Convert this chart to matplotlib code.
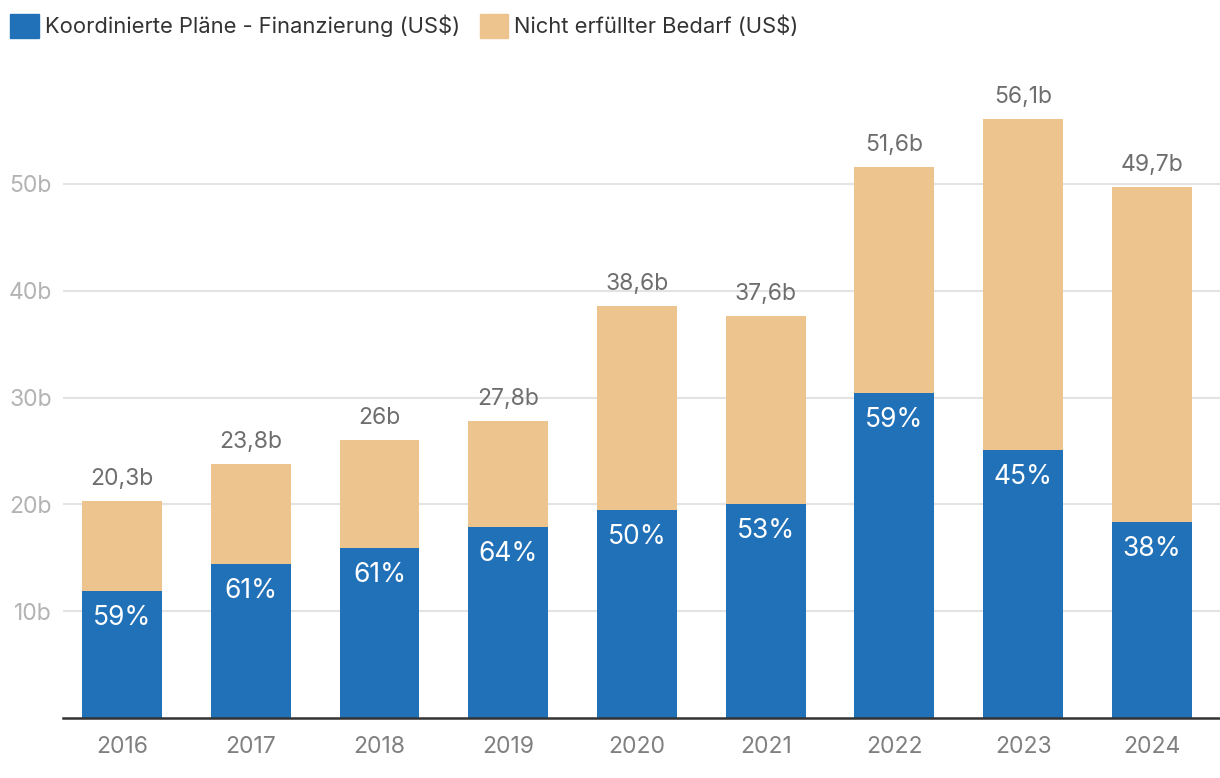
import matplotlib.pyplot as plt
from matplotlib.patches import Patch

years = ['2016', '2017', '2018', '2019', '2020', '2021', '2022', '2023', '2024']
funded = [11.9, 14.4, 15.9, 17.9, 19.5, 20.0, 30.4, 25.1, 18.35]
totals = [20.3, 23.8, 26.0, 27.8, 38.6, 37.6, 51.6, 56.1, 49.7]
total_labels = ['20,3b', '23,8b', '26b', '27,8b', '38,6b', '37,6b', '51,6b', '56,1b', '49,7b']
pct_labels = ['59%', '61%', '61%', '64%', '50%', '53%', '59%', '45%', '38%']

blue = '#2171b8'
sand = '#eec48e'

plt.rcParams['font.family'] = ['Inter', 'DejaVu Sans']

fig = plt.figure(figsize=(12.2, 7.78), dpi=100)
ax = fig.add_axes([63 / 1220, 60 / 778, 1157 / 1220, 641 / 778])

x = range(len(years))
unmet = [t - f for t, f in zip(totals, funded)]
ax.bar(x, funded, width=0.62, color=blue, zorder=2)
ax.bar(x, unmet, bottom=funded, width=0.62, color=sand, zorder=2)

for i in x:
    ax.annotate(total_labels[i], (i, totals[i]), xytext=(0, 8), textcoords='offset points',
                ha='center', va='bottom', fontsize=16.5, color='#6e6e6e')
    ax.annotate(pct_labels[i], (i, funded[i]), xytext=(0, -10), textcoords='offset points',
                ha='center', va='top', fontsize=19, color='white')

ax.set_xlim(-0.46, 8.53)
ax.set_ylim(0, 60)
ax.set_yticks([10, 20, 30, 40, 50])
ax.set_yticklabels(['10b', '20b', '30b', '40b', '50b'])
ax.set_xticks(list(x))
ax.set_xticklabels(years)
ax.grid(axis='y', color='#e3e3e3', linewidth=1.5, zorder=0)
ax.set_axisbelow(True)

for s in ['top', 'right', 'left']:
    ax.spines[s].set_visible(False)
ax.spines['bottom'].set_color('#333333')
ax.spines['bottom'].set_linewidth(1.8)
ax.tick_params(axis='y', length=0, pad=8, labelsize=16.5, labelcolor='#b3b3b3')
ax.tick_params(axis='x', length=0, pad=13, labelsize=16.5, labelcolor='#808080')

handles = [Patch(color=blue, label='Koordinierte Pläne - Finanzierung (US$)'),
           Patch(color=sand, label='Nicht erfüllter Bedarf (US$)')]
fig.legend(handles=handles, loc='upper left', bbox_to_anchor=(10 / 1220, 1 - 14 / 778), ncol=2,
           frameon=False, borderpad=0, borderaxespad=0,
           fontsize=15.8, handlelength=1.3, handleheight=1.3, handletextpad=0.28,
           columnspacing=0.9, labelcolor='#333333')

fig.savefig('out.png', dpi=100)
